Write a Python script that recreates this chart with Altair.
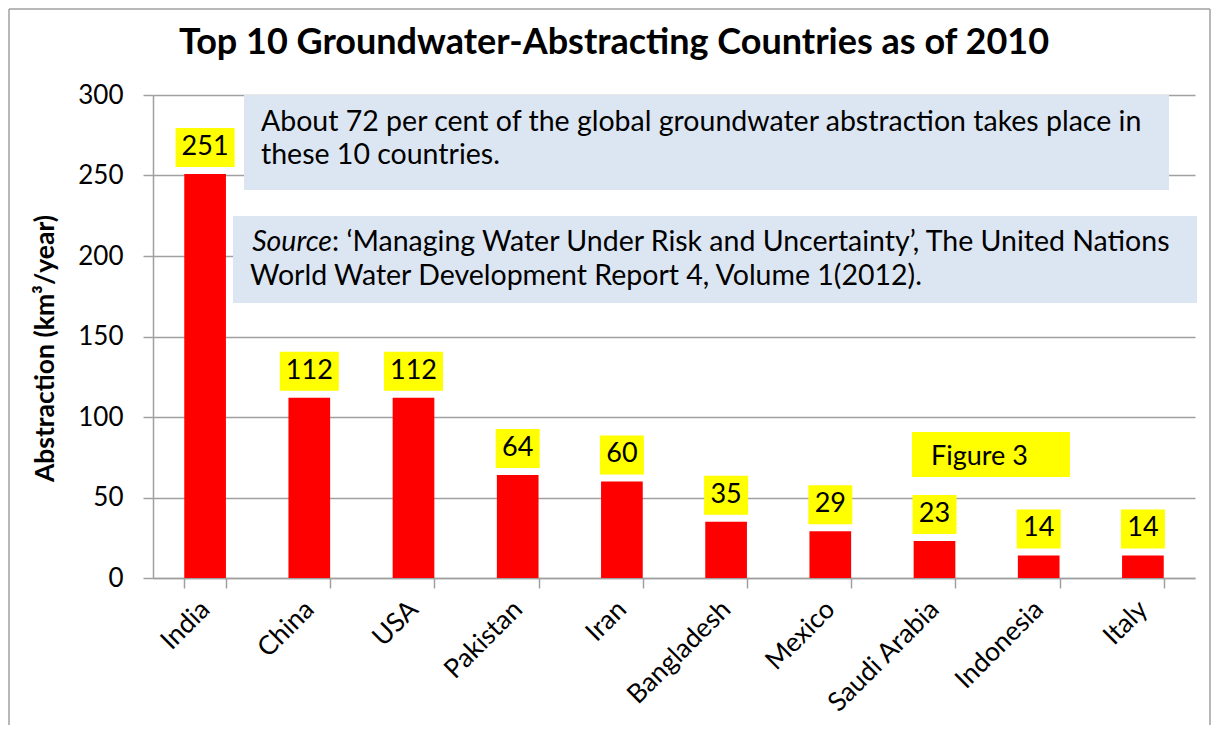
import altair as alt
import pandas as pd

countries = ["India", "China", "USA", "Pakistan", "Iran", "Bangladesh",
             "Mexico", "Saudi Arabia", "Indonesia", "Italy"]
abstraction = [251, 112, 112, 64, 60, 35, 29, 23, 14, 14]
y_ticks = [0, 50, 100, 150, 200, 250, 300]
title_text = "Top 10 Groundwater-Abstracting Countries as of 2010"
y_title = "Abstraction (km³/year)"
note_lines = ["About 72 per cent of the global groundwater abstraction takes place in",
              "these 10 countries."]
source_label = "Source"
source_line1 = ": ‘Managing Water Under Risk and Uncertainty’, The United Nations"
source_line2 = "World Water Development Report 4, Volume 1(2012)."
figure_label = "Figure 3"

FONT = "Lato"
W, H = 1042, 483
GRAY = "#a0a0a0"

df = pd.DataFrame({"country": countries, "value": abstraction})

x_enc = alt.X("country:N", sort=countries,
              scale=alt.Scale(paddingInner=0.6, paddingOuter=0.3),
              axis=alt.Axis(title=None, labelAngle=-45, labelAlign="right",
                            labelBaseline="middle", labelPadding=17,
                            tickBand="extent", tickSize=10, tickColor=GRAY,
                            domainColor=GRAY, domainWidth=1.5, tickWidth=1.5,
                            labelFont=FONT, labelFontSize=26.5, labelColor="#000"))
y_enc = alt.Y("value:Q",
              scale=alt.Scale(domain=[0, 300], nice=False),
              axis=alt.Axis(values=y_ticks, title=y_title, titleFont=FONT,
                            titleFontSize=26.5, titleFontWeight="bold", titleColor="#000",
                            titleAngle=-90, titleX=-108, titleY=253,
                            titleAlign="center", titleBaseline="middle",
                            grid=True, gridColor=GRAY, gridWidth=1.5,
                            tickSize=10, tickColor=GRAY, tickWidth=1.5,
                            domainColor=GRAY, domainWidth=1.5,
                            labelPadding=20, labelFont=FONT, labelFontSize=26,
                            labelColor="#000"))

base = alt.Chart(df)

bars = base.mark_bar(color="#ff0000").encode(x=x_enc, y=y_enc)

label_boxes = base.transform_calculate(
    boxw="length(toString(datum.value)) > 2 ? 59 : 44"
).mark_bar(color="#ffff00", yOffset=-46, y2Offset=-7).encode(
    x=alt.X("country:N", sort=countries),
    y=alt.Y("value:Q"),
    y2=alt.Y2("value"),
    size=alt.Size("boxw:Q", scale=None, legend=None),
)

labels = base.mark_text(font=FONT, fontSize=27, color="#000", baseline="middle",
                        dy=-27).encode(
    x=alt.X("country:N", sort=countries),
    y=alt.Y("value:Q"),
    text=alt.Text("value:Q"),
)

def rect(x1, x2, y1, y2, color):
    return alt.Chart(pd.DataFrame({"k": [0]})).mark_rect(color=color).encode(
        x=alt.value(x1), x2=alt.value(x2), y=alt.value(y1), y2=alt.value(y2))

def text(t, x, y, align="left", style="normal", size=28.5):
    return alt.Chart(pd.DataFrame({"t": [t]})).mark_text(
        font=FONT, fontSize=size, fontStyle=style, align=align,
        baseline="alphabetic", color="#000").encode(
        text="t:N", x=alt.value(x), y=alt.value(y))

box1 = rect(91, 1016, 0, 95, "#dce6f2")
box2 = rect(80, 1044, 121, 208, "#dce6f2")
box3 = rect(759, 917, 337, 382, "#ffff00")

t1 = text(note_lines[0], 108, 36)
t2 = text(note_lines[1], 108, 69)
s0 = text(source_label, 179, 156, align="right", style="italic")
s1 = text(source_line1, 179, 156)
s2 = text(source_line2, 97, 190)
f3 = text(figure_label, 778, 370, size=27)

border_df = pd.DataFrame({"k": [0]})
border_left = alt.Chart(border_df).mark_rule(color=GRAY, strokeWidth=1.5).encode(
    x=alt.value(-144), y=alt.value(-86), y2=alt.value(700))
border_top = alt.Chart(border_df).mark_rule(color=GRAY, strokeWidth=1.5).encode(
    x=alt.value(-144), x2=alt.value(1057), y=alt.value(-86))
border_right = alt.Chart(border_df).mark_rule(color=GRAY, strokeWidth=1.5).encode(
    x=alt.value(1057), y=alt.value(-86), y2=alt.value(700))

chart = alt.layer(
    bars, label_boxes, labels, box1, box2, box3, t1, t2, s0, s1, s2, f3,
    border_left, border_top, border_right
).properties(
    width=W, height=H,
    title=alt.Title(title_text, font=FONT, fontSize=36, fontWeight="bold",
                    color="#000", anchor="middle", frame="group", dx=-60,
                    baseline="alphabetic", offset=-82),
    padding={"left": 145, "top": 87, "right": 16, "bottom": 147},
    autosize="none",
).configure_view(stroke=None)

chart.save("out.html", embed_options={"renderer": "svg", "actions": False})
